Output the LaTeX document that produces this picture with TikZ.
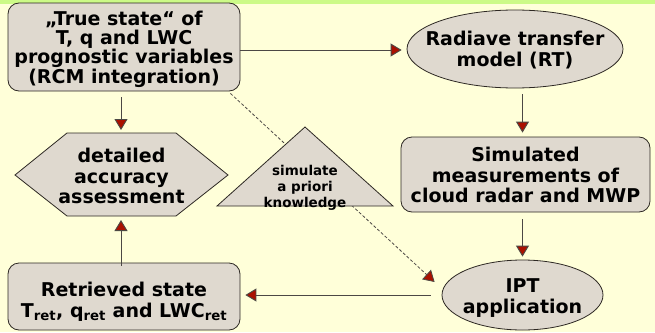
\documentclass[tikz,border=0pt]{standalone}
\usepackage{fontspec}
\setmainfont{DejaVu Sans}
\usetikzlibrary{arrows.meta,shapes.geometric}
\definecolor{bg}{RGB}{255,255,217}
\definecolor{topbar}{RGB}{204,250,136}
\definecolor{boxfill}{RGB}{223,217,207}
\definecolor{tipred}{RGB}{170,16,0}
\definecolor{edge}{RGB}{45,40,35}
\begin{document}
\begin{tikzpicture}[x=1pt,y=-1pt,
  shapebase/.style={draw=edge, line width=0.8pt, fill=boxfill, inner sep=0pt},
  rbox/.style={shapebase, rectangle, rounded corners=11pt},
  oval/.style={shapebase, ellipse},
  txt/.style={align=center, font=\bfseries\fontsize{19}{20.5}\selectfont, inner sep=0pt},
  smalltxt/.style={align=center, font=\bfseries\fontsize{13.5}{16}\selectfont, inner sep=0pt},
  conn/.style={draw=edge!85, line width=0.9pt, -{Triangle[width=13pt,length=11pt,fill=tipred]}},
  dconn/.style={conn, dash pattern=on 3pt off 2pt, line width=0.8pt}
]
\fill[bg] (0,0) rectangle (655,332);
\fill[topbar] (0,0) rectangle (655,3.5);
\useasboundingbox (0,0) rectangle (655,332);

% shapes
\node[rbox, minimum width=232pt, minimum height=88pt] (truth) at (124,47) {};
\node[oval, minimum width=216pt, minimum height=78pt] (rt) at (515,49) {};
\node[rbox, minimum width=249pt, minimum height=75pt] (sim) at (525.5,174.5) {};
\node[oval, minimum width=161pt, minimum height=70pt] (ipt) at (522.5,295) {};
\node[rbox, minimum width=232pt, minimum height=67pt] (ret) at (124,296.5) {};

% hexagon
\coordinate (hexN) at (121,133);
\coordinate (hexS) at (121,216);
\filldraw[draw=edge, line width=0.8pt, fill=boxfill]
  (15,175) -- (67,133) -- (176,133) -- (228,175) -- (176,216) -- (67,216) -- cycle;

% dashed connector (behind the triangle)
\draw[dconn] ([xshift=-10pt,yshift=-2pt]truth.south east) -- ([xshift=-7pt,yshift=13pt]ipt.west);

% triangle
\coordinate (triA) at (305,127);
\coordinate (triB) at (393,206);
\coordinate (triC) at (217,206);
\filldraw[draw=edge, line width=0.8pt, fill=boxfill] (triA) -- (triB) -- (triC) -- cycle;

% texts
\node[txt, font=\bfseries\fontsize{19}{19.3}\selectfont] (truthT) at (124,49) {„True state“ of\\T, q and LWC\\prognostic variables\\(RCM integration)};
\node[txt] (rtT) at (515,50) {Radiave transfer\\model (RT)};
\node[txt] (simT) at (525.5,175) {Simulated\\measurements of\\cloud radar and MWP};
\node[txt, font=\bfseries\fontsize{19}{21.7}\selectfont] (iptT) at (522.5,298) {IPT\\application};
\node[txt] (retT) at (124,302) {Retrieved state\\T\textsubscript{ret}, q\textsubscript{ret} and LWC\textsubscript{ret}};
\node[txt] (hexT) at (121.5,176) {detailed\\accuracy\\assessment};
\node[smalltxt] (triT) at (305,188) {simulate\\a priori\\knowledge};

% connectors
\draw[conn, shorten >=5pt] (truth.east |- 0,50) -- (rt.west |- 0,50);
\draw[conn, shorten <=6pt, shorten >=4pt] (ipt.north |- rt.south) -- (ipt.north |- sim.north);
\draw[conn, shorten <=7pt, shorten >=3pt] (ipt.north |- sim.south) -- (ipt.north);
\draw[conn, shorten <=11pt, shorten >=5pt] (ipt.west) -- (ret.east |- ipt.west);
\draw[conn, shorten <=-3pt, shorten >=4pt] (ret.north -| hexS) -- (hexS);
\draw[conn, shorten <=6pt, shorten >=3pt] (truth.south -| hexN) -- (hexN);
\end{tikzpicture}
\end{document}
